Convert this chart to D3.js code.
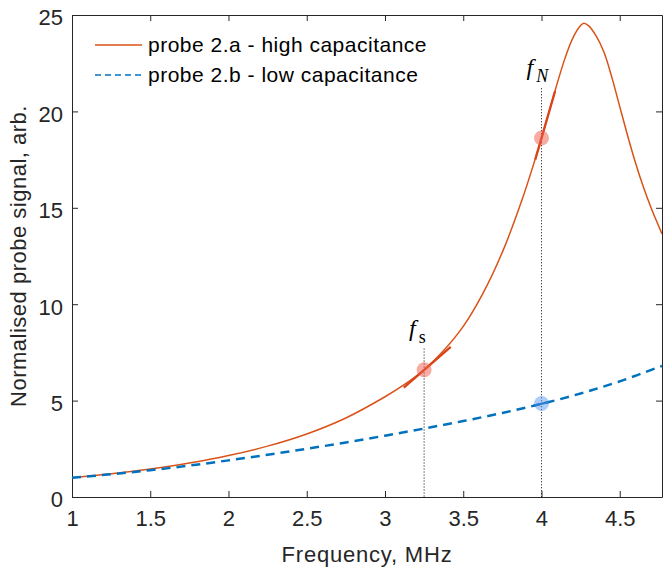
<!DOCTYPE html>
<html>
<head>
<meta charset="utf-8">
<script src="https://cdn.jsdelivr.net/npm/d3@7/dist/d3.min.js"></script>
<style>
  body { margin: 0; background: #fff; }
  svg { display: block; }
</style>
</head>
<body>
<div id="chart"></div>
<script>
// probe 2.a - high capacitance (resonance near 4.27 MHz)
const freqA = [1.0, 1.25, 1.5, 1.75, 2.0, 2.25, 2.5, 2.75, 3.0, 3.125, 3.25, 3.375, 3.5, 3.625, 3.75, 3.875, 4.0,
  4.075, 4.15, 4.2, 4.25, 4.27, 4.3, 4.35, 4.4, 4.45, 4.5, 4.55, 4.6, 4.65, 4.7, 4.77];
const signalA = [1.0, 1.2, 1.45, 1.76, 2.15, 2.64, 3.27, 4.1, 5.2, 5.84, 6.6, 7.6, 8.85, 10.55, 12.7, 15.4, 18.6,
  20.75, 22.75, 23.8, 24.45, 24.57, 24.45, 23.9, 23.05, 21.75, 20.25, 18.75, 17.35, 16.1, 15.0, 13.65];

// probe 2.b - low capacitance
const freqB = [1.0, 1.25, 1.5, 1.75, 2.0, 2.25, 2.5, 2.75, 3.0, 3.25, 3.5, 3.75, 4.0, 4.25, 4.5, 4.77];
const signalB = [1.0, 1.18, 1.39, 1.63, 1.9, 2.19, 2.5, 2.83, 3.18, 3.55, 3.94, 4.36, 4.83, 5.37, 6.0, 6.8];

// highlighted points
const markFreqA = [3.25, 4.0];
const markValA = [6.6, 18.62];
const markFreqB = [4.0];
const markValB = [4.85];

// short tangent segments at the highlighted points
const tangentS_A = {f: [3.12, 3.42], v: [5.67, 7.79]};
const tangentN_A = {f: [3.96, 4.087], v: [17.5, 21.05]};
const tangentN_B = {f: [3.95, 4.05], v: [4.74, 4.93]};

// dotted guide lines and their labels
const guideFreq = [3.25, 4.0];
const guideTop = [7.7, 21.2];
const guideSub = ['s', 'N'];

const xTicks = [1, 1.5, 2, 2.5, 3, 3.5, 4, 4.5];
const yTicks = [0, 5, 10, 15, 20, 25];
const seriesLabels = ['probe 2.a - high capacitance', 'probe 2.b - low capacitance'];
const xLabel = 'Frequency, MHz';
const yLabel = 'Normalised probe signal, arb.';

const W = 663, H = 571;
const margin = {top: 15, right: 1, bottom: 74, left: 72};
const width = W - margin.left - margin.right;
const height = H - margin.top - margin.bottom;

const orange = '#D95319';
const blue = '#0072BD';
const axisCol = '#262626';
const font = '"Liberation Sans", Arial, sans-serif';

const svg = d3.select('#chart')
  .append('svg')
  .attr('width', W)
  .attr('height', H)
  .append('g')
  .attr('transform', `translate(${margin.left},${margin.top})`);

const x = d3.scaleLinear().domain([1, 4.77]).range([0, width]);
const y = d3.scaleLinear().domain([0, 25]).range([height, 0]);

svg.append('clipPath').attr('id', 'plot-clip')
  .append('rect').attr('width', width).attr('height', height);

// Axes (box with inward ticks)
function styleAxis(g) {
  g.select('.domain').attr('stroke', axisCol).attr('stroke-width', 1);
  g.selectAll('.tick line').attr('stroke', axisCol).attr('stroke-width', 1);
  g.selectAll('.tick text')
    .attr('fill', axisCol)
    .style('font-family', font)
    .style('font-size', '22px');
}

svg.append('g')
  .attr('transform', `translate(0,${height})`)
  .call(d3.axisBottom(x).tickValues(xTicks).tickSizeInner(-6).tickSizeOuter(0).tickPadding(13).tickFormat(d3.format('')))
  .call(styleAxis);

svg.append('g')
  .call(d3.axisTop(x).tickValues(xTicks).tickSizeInner(-6).tickSizeOuter(0).tickFormat(''))
  .call(styleAxis);

svg.append('g')
  .call(d3.axisLeft(y).tickValues(yTicks).tickSizeInner(-6).tickSizeOuter(0).tickPadding(9))
  .call(styleAxis)
  .selectAll('.tick text').attr('dy', '0.45em');

svg.append('g')
  .attr('transform', `translate(${width},0)`)
  .call(d3.axisRight(y).tickValues(yTicks).tickSizeInner(-6).tickSizeOuter(0).tickFormat(''))
  .call(styleAxis);

// Axis labels
svg.append('text')
  .attr('x', width / 2)
  .attr('y', height + 65)
  .attr('text-anchor', 'middle')
  .attr('fill', axisCol)
  .style('font-family', font)
  .style('font-size', '22px')
  .style('letter-spacing', '0.8px')
  .text(xLabel);

svg.append('text')
  .attr('transform', `translate(${-46},${height / 2}) rotate(-90)`)
  .attr('text-anchor', 'middle')
  .attr('fill', axisCol)
  .style('font-family', font)
  .style('font-size', '22px')
  .style('letter-spacing', '0.5px')
  .text(yLabel);

const plot = svg.append('g').attr('clip-path', 'url(#plot-clip)');

// Guide lines
guideFreq.forEach((f, i) => {
  plot.append('line')
    .attr('x1', x(f)).attr('x2', x(f))
    .attr('y1', y(guideTop[i])).attr('y2', y(0))
    .attr('stroke', '#000')
    .attr('stroke-width', 1)
    .attr('stroke-dasharray', '1,2');
});

const line = d3.line()
  .x(d => x(d[0]))
  .y(d => y(d[1]))
  .curve(d3.curveCatmullRom.alpha(0.5));

plot.append('path')
  .datum(freqA.map((f, i) => [f, signalA[i]]))
  .attr('fill', 'none')
  .attr('stroke', orange)
  .attr('stroke-width', 1.5)
  .attr('d', line);

plot.append('path')
  .datum(freqB.map((f, i) => [f, signalB[i]]))
  .attr('fill', 'none')
  .attr('stroke', blue)
  .attr('stroke-width', 2.5)
  .attr('stroke-dasharray', '9,6')
  .attr('d', line);

// Tangents
const straight = d3.line().x(d => x(d[0])).y(d => y(d[1]));
[[tangentS_A, '#D9441A'], [tangentN_A, '#D9441A'], [tangentN_B, '#0060A8']].forEach(([t, c]) => {
  plot.append('path')
    .datum(t.f.map((f, i) => [f, t.v[i]]))
    .attr('fill', 'none')
    .attr('stroke', c)
    .attr('stroke-width', 2.3)
    .attr('d', straight);
});

// Markers
plot.selectAll('.mark-a')
  .data(markFreqA.map((f, i) => [f, markValA[i]]))
  .enter().append('circle')
  .attr('cx', d => x(d[0]))
  .attr('cy', d => y(d[1]))
  .attr('r', 7.5)
  .attr('fill', '#EE5A48')
  .attr('fill-opacity', 0.5);

plot.selectAll('.mark-b')
  .data(markFreqB.map((f, i) => [f, markValB[i]]))
  .enter().append('circle')
  .attr('cx', d => x(d[0]))
  .attr('cy', d => y(d[1]))
  .attr('r', 7.5)
  .attr('fill', '#5A9CF2')
  .attr('fill-opacity', 0.5);

// Guide labels f_s, f_N
guideFreq.forEach((f, i) => {
  const t = svg.append('text')
    .attr('x', x(f) - 15)
    .attr('y', y(guideTop[i]) - 13)
    .attr('fill', '#000')
    .style('font-family', '"Liberation Serif", "Times New Roman", serif');
  t.append('tspan')
    .style('font-style', 'italic')
    .style('font-size', '24px')
    .text('f');
  t.append('tspan')
    .attr('dx', 3)
    .attr('dy', 7)
    .style('font-style', guideSub[i] === 'N' ? 'italic' : 'normal')
    .style('font-size', '18px')
    .text(guideSub[i]);
});

// Legend
const legend = svg.append('g').attr('transform', 'translate(23,30)');
const legendStyles = [
  {color: orange, width: 1.5, dash: null},
  {color: blue, width: 1.5, dash: '6,4'}
];
seriesLabels.forEach((label, i) => {
  const row = legend.append('g').attr('transform', `translate(0,${i * 30})`);
  row.append('line')
    .attr('x1', 0).attr('x2', 47)
    .attr('y1', 0).attr('y2', 0)
    .attr('stroke', legendStyles[i].color)
    .attr('stroke-width', legendStyles[i].width)
    .attr('stroke-dasharray', legendStyles[i].dash);
  row.append('text')
    .attr('x', 53)
    .attr('y', 0)
    .attr('dy', '0.35em')
    .attr('fill', '#000')
    .style('font-family', font)
    .style('font-size', '21px')
    .style('letter-spacing', '0.5px')
    .text(label);
});
</script>
</body>
</html>
